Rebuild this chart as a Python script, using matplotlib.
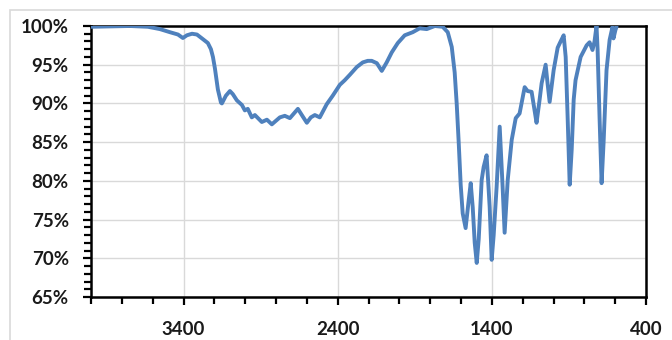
import matplotlib
matplotlib.use("Agg")
import matplotlib.pyplot as plt
from matplotlib.patches import Rectangle
from matplotlib.ticker import MultipleLocator, FuncFormatter

# IR spectrum (wavenumber in cm-1, transmittance in %)
wavenumber = [4000, 3877, 3747, 3631, 3553, 3488, 3436, 3404, 3378, 3345,
              3313, 3274, 3242, 3222, 3209, 3196, 3177, 3157, 3151, 3125,
              3099, 3080, 3054, 3021, 3002, 2983, 2957, 2937, 2892, 2859,
              2827, 2775, 2743, 2710, 2658, 2626, 2600, 2574, 2548, 2516,
              2471, 2432, 2386, 2354, 2321, 2276, 2237, 2205, 2179, 2146,
              2114, 2082, 2049, 2010, 1965, 1913, 1868, 1822, 1770, 1719,
              1686, 1660, 1641, 1628, 1615, 1602, 1589, 1570, 1550, 1537,
              1524, 1511, 1498, 1485, 1466, 1453, 1434, 1421, 1414, 1401,
              1388, 1369, 1349, 1330, 1317, 1297, 1271, 1245, 1220, 1187,
              1168, 1142, 1122, 1110, 1090, 1077, 1051, 1038, 1025, 999,
              973, 954, 934, 921, 908, 895, 882, 869, 857, 824,
              785, 766, 747, 734, 721, 714, 701, 688, 675, 656,
              636, 617, 611, 598, 591]
transmittance = [99.9, 99.95, 100.0, 99.9, 99.6, 99.2, 98.9, 98.45, 98.8, 99.0,
                 98.9, 98.3, 97.8, 97.0, 96.0, 94.5, 91.8, 90.1, 90.0, 91.0,
                 91.6, 91.2, 90.4, 89.8, 89.1, 89.3, 88.2, 88.5, 87.6, 87.9,
                 87.3, 88.2, 88.4, 88.1, 89.3, 88.3, 87.5, 88.2, 88.5, 88.2,
                 89.9, 91.0, 92.4, 93.0, 93.7, 94.7, 95.3, 95.5, 95.5, 95.2,
                 94.2, 95.3, 96.6, 97.8, 98.8, 99.2, 99.7, 99.6, 100.0, 99.9,
                 99.2, 97.3, 94.0, 90.0, 85.0, 79.5, 75.8, 73.9, 77.5, 79.7,
                 76.6, 72.0, 69.4, 72.5, 80.1, 81.8, 83.3, 79.0, 76.6, 69.8,
                 73.0, 79.2, 87.0, 79.2, 73.3, 80.1, 85.3, 88.1, 88.7, 92.1,
                 91.6, 91.5, 89.0, 87.5, 90.5, 92.6, 95.0, 92.5, 90.2, 94.3,
                 97.2, 98.0, 98.8, 96.0, 88.0, 79.5, 84.0, 90.5, 93.0, 96.0,
                 97.5, 97.9, 96.9, 98.0, 100.0, 97.0, 88.0, 79.7, 85.0, 94.3,
                 98.2, 99.9, 98.4, 99.5, 99.9]

x_major = [3400, 2400, 1400, 400]

plt.rcParams['font.family'] = ['Lato', 'DejaVu Sans']

fig = plt.figure(figsize=(6.72, 3.4), dpi=100)
ax = fig.add_axes([91/672, 1-297/340, (646-91)/672, (297-26)/340])

# light chart-area frame
fig.patches.append(Rectangle((10/672, -0.5), 1.2, 1.5 - 10/340,
                             transform=fig.transFigure, fill=False,
                             edgecolor='#D9D9D9', lw=1.2))

ax.plot(wavenumber, transmittance, color='#4F81BD', lw=2.8,
        solid_joinstyle='round', solid_capstyle='round', zorder=3)

ax.set_xlim(4000, 400)
ax.set_ylim(65, 100)
ax.set_xticks(x_major)
ax.xaxis.set_minor_locator(MultipleLocator(200))
ax.yaxis.set_major_locator(MultipleLocator(5))
ax.yaxis.set_minor_locator(MultipleLocator(1))
ax.yaxis.set_major_formatter(FuncFormatter(lambda v, p: f"{v:.0f}%"))

ax.grid(True, which='major', color='#D9D9D9', lw=1, zorder=0)
for s in ax.spines.values():
    s.set_color('black')
    s.set_linewidth(1.8)

ax.tick_params(axis='both', which='both', direction='out', color='black',
               width=1.6, labelsize=13.5)
ax.tick_params(axis='x', which='major', length=6, pad=11)
ax.tick_params(axis='x', which='minor', length=5)
ax.tick_params(axis='y', which='major', length=6, pad=10)
ax.tick_params(axis='y', which='minor', length=5)
for lab in ax.get_xticklabels() + ax.get_yticklabels():
    lab.set_fontweight('bold')
    lab.set_color('#1A1A1A')

fig.savefig("out.png", dpi=100)
